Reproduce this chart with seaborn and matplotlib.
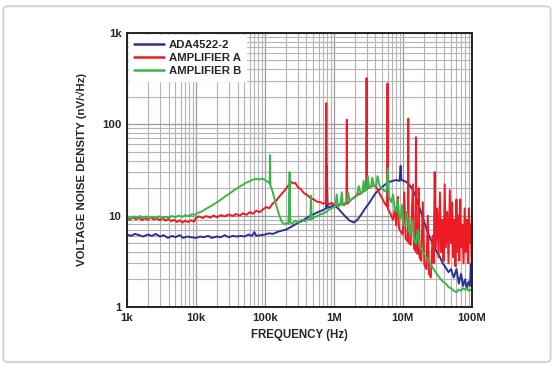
import numpy as np
import pandas as pd
import seaborn as sns
import matplotlib
matplotlib.use("Agg")
import matplotlib.pyplot as plt
from matplotlib.patches import FancyBboxPatch
from matplotlib.ticker import LogLocator, FixedLocator, FixedFormatter, NullFormatter

# ADA4522-2 trace (Hz, nV/rtHz)
ada_f = [1e3, 1.15e3, 1.3e3, 1.5e3, 1.7e3, 2e3, 2.3e3, 2.6e3, 3e3, 3.4e3, 3.9e3, 4.5e3,
         5e3, 5.8e3, 6.5e3, 7.5e3, 8.5e3, 10e3, 11.5e3, 13e3, 15e3, 17e3, 20e3, 23e3,
         26e3, 30e3, 34e3, 39e3, 45e3, 50e3, 58e3, 65e3, 70e3, 75e3, 85e3, 100e3,
         115e3, 130e3, 150e3, 170e3, 200e3, 230e3, 260e3, 300e3, 350e3, 400e3, 460e3,
         530e3, 600e3, 700e3, 770e3, 790e3, 810e3, 900e3, 1e6, 1.15e6, 1.3e6, 1.5e6,
         1.7e6, 1.95e6, 2.2e6, 2.5e6, 2.8e6, 3.2e6, 3.6e6, 4e6, 4.3e6, 4.7e6, 5.2e6,
         5.8e6, 6.5e6, 7.2e6, 8e6, 9e6, 9.3e6, 9.5e6, 10.5e6, 12e6, 13.5e6, 15e6, 17e6,
         19e6, 21e6, 24e6, 27e6, 30e6, 34e6, 38e6, 42e6, 46e6, 50e6, 55e6, 60e6, 65e6,
         70e6, 75e6, 80e6, 85e6, 90e6, 95e6, 98e6, 100e6]
ada_v = [6.2, 6.0, 6.3, 6.1, 5.9, 6.2, 6.0, 6.3, 5.9, 6.1, 5.7, 6.0,
         5.8, 6.1, 5.7, 5.9, 5.8, 5.7, 5.9, 5.8, 6.0, 5.7, 5.9, 5.8,
         6.1, 5.8, 6.0, 5.9, 6.0, 5.9, 6.2, 6.0, 6.6, 6.0, 6.1, 6.2,
         6.4, 6.3, 6.6, 6.8, 7.0, 7.4, 7.8, 8.3, 8.8, 9.4, 10.0,
         10.5, 11.0, 11.5, 12.0, 35, 12.2, 12.5, 13.0, 12.0, 10.8, 9.6,
         8.8, 8.4, 9.0, 10.3, 11.8, 13.5, 15.5, 17.5, 18.5, 19.5, 21,
         22.5, 23.5, 24, 24.5, 24, 35, 24.5, 24, 22.5, 20, 17, 13,
         10, 8, 6, 5, 4.2, 3.6, 3.0, 2.7, 2.4, 2.6, 2.1, 2.6, 1.8,
         2.3, 1.7, 2.0, 1.6, 1.9, 1.7, 3.0, 1.7]

# Amplifier A trace
amp_a_f = [1e3, 1.1e3, 1.2e3, 1.35e3, 1.5e3, 1.65e3, 1.8e3, 2e3, 2.2e3, 2.45e3, 2.7e3,
           3e3, 3.3e3, 3.6e3, 4e3, 4.4e3, 4.8e3, 5.3e3, 5.8e3, 6.4e3, 7e3, 7.7e3, 8.5e3,
           9.3e3, 10e3, 11e3, 12.5e3, 14e3, 16e3, 18e3, 20e3, 23e3, 26e3, 30e3, 34e3,
           38e3, 43e3, 48e3, 54e3, 60e3, 67e3, 75e3, 84e3, 95e3, 105e3, 115e3, 130e3,
           145e3, 160e3, 180e3, 200e3, 220e3, 240e3, 255e3, 275e3, 300e3, 330e3, 370e3,
           410e3, 460e3, 510e3, 570e3, 640e3, 700e3, 760e3, 775e3, 790e3, 850e3, 920e3,
           1e6, 1.1e6, 1.25e6, 1.4e6, 1.52e6, 1.54e6, 1.56e6, 1.7e6, 1.9e6, 2.1e6, 2.4e6,
           2.7e6, 2.95e6, 2.98e6, 3.01e6, 3.3e6, 3.7e6, 4.1e6, 4.5e6, 5e6, 5.5e6, 5.95e6,
           6e6, 6.05e6, 6.6e6, 7.2e6, 7.7e6, 8e6, 8.5e6, 8.8e6, 9.4e6, 10e6, 10.5e6, 11e6,
           11.8e6, 12e6, 12.2e6, 13e6, 14e6, 14.5e6, 15.3e6, 15.5e6, 15.7e6, 16.5e6, 17e6,
           17.5e6, 18.5e6, 19.5e6, 20.5e6, 22e6, 23e6, 24e6, 25.5e6, 27e6, 28e6, 29e6,
           30e6, 31.5e6, 33e6, 34.5e6, 36e6, 37.5e6, 39e6, 40.5e6, 42e6, 44e6, 46e6, 48e6,
           50e6, 52e6, 54e6, 56e6, 58e6, 60e6, 62e6, 64e6, 66e6, 68e6, 70e6, 73e6, 76e6,
           79e6, 82e6, 85e6, 88e6, 91e6, 94e6, 97e6, 100e6]
amp_a_v = [9.4, 9.0, 9.6, 9.1, 9.5, 8.9, 9.4, 9.0, 9.5, 9.1, 9.3,
           8.9, 9.4, 8.8, 9.2, 8.7, 9.0, 8.5, 8.9, 8.4, 8.8, 8.5, 8.9,
           8.6, 9.4, 9.8, 9.4, 9.9, 9.5, 10.0, 9.6, 10.1, 9.8, 10.3, 9.9,
           10.4, 10.0, 10.6, 10.2, 10.9, 10.5, 11.3, 10.9, 11.8, 12.4, 12.0, 13.6,
           14.5, 16.0, 17.8, 19.5, 21.5, 23.5, 22.5, 22.8, 20.5, 19.5, 17.5,
           16.8, 15.5, 15.0, 14.2, 14.0, 13.5, 13.8, 170, 14, 13.2, 13.8,
           13.2, 12.8, 13.5, 13.0, 13.8, 112, 13.5, 14.5, 15.5, 16.5, 17.5,
           18.5, 19.5, 320, 19.5, 20.5, 21.5, 20.5, 18.0, 15.5, 13.5, 12.5,
           280, 12, 10.5, 9.0, 12, 7.8, 16, 7.2, 6.6, 6.2, 18, 5.6,
           5.2, 115, 5.0, 4.8, 22, 4.4, 4.1, 72, 4.0, 3.8, 20,
           3.5, 3.2, 14, 2.9, 2.6, 10, 2.3, 2.1, 6, 3, 30,
           4.5, 12, 3.5, 18, 4.0, 9, 3.2, 22, 4.5, 11, 3.0, 19,
           5, 14, 3.5, 9, 2.8, 15, 4, 10, 3.2, 15, 4.5, 8, 3,
           12, 4, 9, 3, 12, 5, 8, 3]

# Amplifier B trace
amp_b_f = [1e3, 1.1e3, 1.25e3, 1.4e3, 1.55e3, 1.7e3, 1.9e3, 2.1e3, 2.35e3, 2.6e3, 2.9e3,
           3.2e3, 3.6e3, 4e3, 4.5e3, 5e3, 5.6e3, 6.3e3, 7e3, 7.8e3, 8.7e3, 9.7e3, 10.8e3,
           12e3, 13.5e3, 15e3, 17e3, 19e3, 21.5e3, 24e3, 27e3, 30e3, 34e3, 38e3, 43e3,
           48e3, 54e3, 60e3, 67e3, 75e3, 83e3, 92e3, 100e3, 110e3, 117e3, 118.5e3, 120e3,
           130e3, 140e3, 150e3, 162e3, 175e3, 190e3, 205e3, 220e3, 228e3, 232e3, 250e3,
           275e3, 300e3, 340e3, 380e3, 420e3, 455e3, 465e3, 475e3, 520e3, 580e3, 650e3,
           720e3, 800e3, 880e3, 960e3, 1.05e6, 1.1e6, 1.15e6, 1.25e6, 1.3e6, 1.35e6,
           1.45e6, 1.55e6, 1.6e6, 1.7e6, 1.85e6, 2e6, 2.15e6, 2.3e6, 2.45e6, 2.6e6, 2.7e6,
           2.8e6, 3e6, 3.1e6, 3.25e6, 3.45e6, 3.6e6, 3.8e6, 4.1e6, 4.3e6, 4.6e6, 5e6,
           5.4e6, 5.8e6, 6.1e6, 6.3e6, 6.8e6, 7.2e6, 7.6e6, 8e6, 8.4e6, 8.8e6, 9.3e6,
           9.7e6, 10.2e6, 10.8e6, 11.5e6, 12.2e6, 13e6, 13.8e6, 14.6e6, 15.5e6, 16.5e6,
           17.5e6, 19e6, 21e6, 23e6, 25.5e6, 28e6, 31e6, 34e6, 38e6, 42e6, 46e6, 50e6,
           55e6, 60e6, 65e6, 70e6, 75e6, 80e6, 85e6, 90e6, 95e6, 100e6]
amp_b_v = [9.7, 9.3, 9.8, 9.4, 9.9, 9.4, 9.8, 9.3, 9.7, 9.4, 9.8,
           9.4, 9.7, 9.5, 9.9, 9.6, 10.0, 9.7, 10.1, 9.9, 10.3, 10.2, 10.8,
           11.0, 11.7, 12.2, 12.9, 13.6, 14.5, 15.3, 16.4, 17.2, 18.5, 19.5, 20.8,
           21.8, 23.0, 23.8, 24.8, 25.2, 24.8, 25.5, 24.5, 23.5, 22.5, 46, 21.5,
           18, 14.5, 12, 10, 8.6, 8.0, 8.3, 8.1, 30, 8.4, 8.2,
           8.8, 8.4, 9.0, 8.7, 9.2, 9.0, 16.5, 9.1, 9.6, 9.9, 10.4,
           10.6, 11.2, 11.8, 12.2, 12.6, 17, 12.5, 13.2, 18, 13.0,
           13.8, 14.2, 18, 14.5, 15.2, 15.8, 16.5, 21, 17.2, 18, 24,
           18.5, 19.5, 27, 20, 20.5, 26, 21, 21.5, 27, 21, 20,
           18.5, 19, 33, 16, 14, 17, 12, 11, 15, 10, 9.2,
           13, 8.2, 7.6, 11, 6.8, 6.2, 9, 5.4, 5.0, 7,
           4.5, 4.1, 3.7, 3.3, 2.9, 2.6, 2.3, 2.1, 1.9, 1.8, 1.65, 1.6,
           1.5, 1.45, 1.55, 1.5, 1.6, 1.55, 1.6, 1.5, 1.55, 1.5]

series_names = ["ADA4522-2", "AMPLIFIER A", "AMPLIFIER B"]
series_colors = ["#2e3192", "#ed1c24", "#39b54a"]

x_ticks = [1e3, 1e4, 1e5, 1e6, 1e7, 1e8]
x_labels = ["1k", "10k", "100k", "1M", "10M", "100M"]
y_ticks = [1, 10, 100, 1000]
y_labels = ["1", "10", "100", "1k"]

sns.set_style("white")
plt.rcParams['font.family'] = ['Liberation Sans', 'DejaVu Sans']

fig = plt.figure(figsize=(5.55, 3.65), dpi=100)
fig.patch.set_facecolor("white")
border = FancyBboxPatch((0.006, 0.008), 0.986, 0.975, boxstyle="round,pad=0,rounding_size=0.01",
                        transform=fig.transFigure, facecolor="none", edgecolor="#d4d4d4",
                        linewidth=1.5)
fig.patches.append(border)

ax = fig.add_axes([0.229, 0.159, 0.621, 0.751])

traces = [(ada_f, ada_v), (amp_a_f, amp_a_v), (amp_b_f, amp_b_v)]
for (f, v), name, col in zip(traces, series_names, series_colors):
    df = pd.DataFrame({"freq": f, "vn": v})
    sns.lineplot(data=df, x="freq", y="vn", ax=ax, color=col, linewidth=1.4,
                 estimator=None, label=name)

ax.set_xscale("log")
ax.set_yscale("log")
ax.set_xlim(1e3, 1e8)
ax.set_ylim(1, 1000)

ax.xaxis.set_major_locator(FixedLocator(x_ticks))
ax.xaxis.set_major_formatter(FixedFormatter(x_labels))
ax.yaxis.set_major_locator(FixedLocator(y_ticks))
ax.yaxis.set_major_formatter(FixedFormatter(y_labels))
ax.xaxis.set_minor_locator(LogLocator(base=10, subs=np.arange(2, 10), numticks=20))
ax.yaxis.set_minor_locator(LogLocator(base=10, subs=np.arange(2, 10), numticks=20))
ax.xaxis.set_minor_formatter(NullFormatter())
ax.yaxis.set_minor_formatter(NullFormatter())

ax.grid(True, which="major", color="#9a9a9a", linewidth=0.9)
ax.grid(True, which="minor", color="#b4b4b4", linewidth=0.8)
ax.set_axisbelow(True)

ax.tick_params(which="both", length=0, labelsize=8.2, pad=4)
for lab in ax.get_xticklabels() + ax.get_yticklabels():
    lab.set_fontweight("bold")

for sp in ax.spines.values():
    sp.set_color("#222222")
    sp.set_linewidth(1.4)

ax.set_xlabel("FREQUENCY (Hz)", fontsize=8.3, fontweight="bold", labelpad=5)
ax.set_ylabel("VOLTAGE NOISE DENSITY (nV/\u221aHz)", fontsize=8.2, fontweight="bold", labelpad=11)

leg = ax.legend(loc="upper left", frameon=True, fancybox=False, framealpha=1,
                facecolor="white", edgecolor="white", borderaxespad=0.2,
                prop={"size": 8.2, "weight": "bold"}, handlelength=2.6,
                labelspacing=0.25, handletextpad=0.4, borderpad=0.45)
for line in leg.get_lines():
    line.set_linewidth(1.8)

fig.savefig("out.png", dpi=100)
